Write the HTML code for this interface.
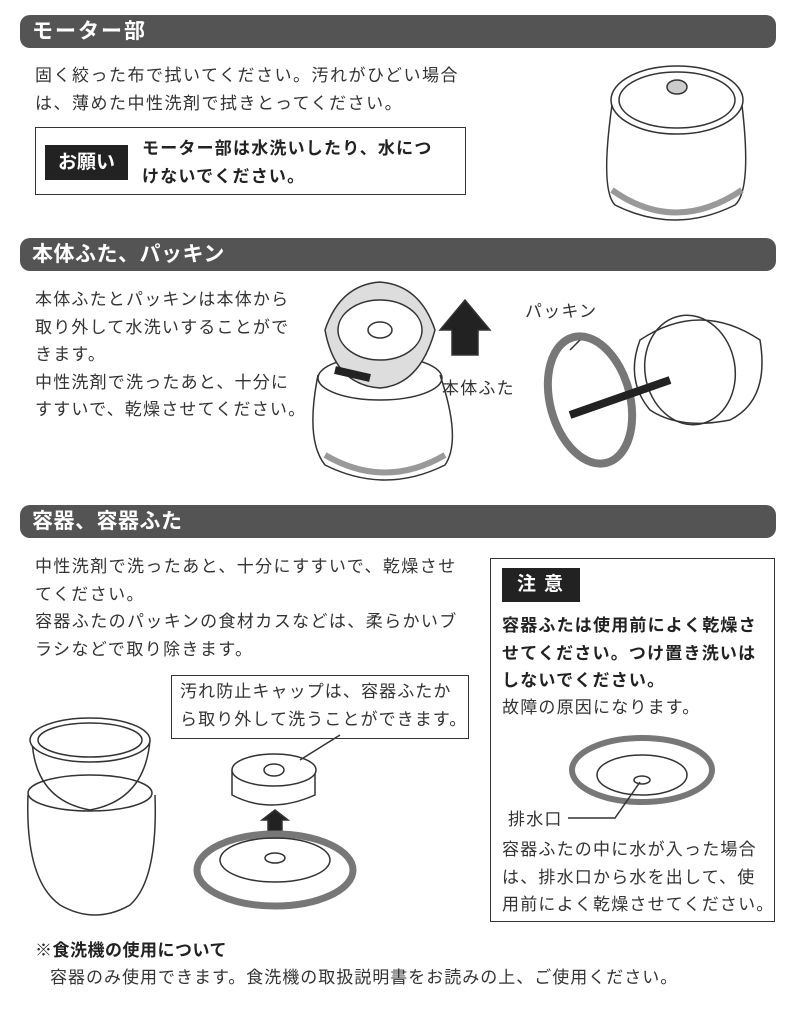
<!DOCTYPE html>
<html><head><meta charset="utf-8">
<style>
*{margin:0;padding:0;box-sizing:border-box}
body{width:792px;height:1020px;background:#fff;position:relative;font-family:"Liberation Sans","Noto Sans CJK JP",sans-serif;color:#333;overflow:hidden}
.bar{position:absolute;left:20px;width:756px;height:33px;background:#545454;border-radius:10px;color:#fff;font-size:21px;font-weight:bold;line-height:33px;padding-left:12px;letter-spacing:0.5px}
.t{position:absolute;font-size:17px;letter-spacing:1.2px;line-height:27.5px;color:#333;white-space:nowrap}
.b{font-weight:bold;color:#222}
svg{position:absolute;left:0;top:0}
</style></head><body>
<div class="bar" style="top:15px;letter-spacing:2px">モーター部</div>
<div class="t" style="left:35px;top:62px;letter-spacing:1.5px">固く絞った布で拭いてください。汚れがひどい場合<br>は、薄めた中性洗剤で拭きとってください。</div>
<div style="position:absolute;left:35px;top:127px;width:431px;height:68px;border:1.5px solid #333"></div>
<div style="position:absolute;left:45px;top:145px;width:83px;height:35px;background:#222;color:#fff;font-size:19px;font-weight:bold;line-height:35px;text-align:center">お願い</div>
<div class="t b" style="left:142px;top:135px;font-size:17px;letter-spacing:1.2px">モーター部は水洗いしたり、水につ<br>けないでください。</div>

<div class="bar" style="top:238px">本体ふた、パッキン</div>
<div class="t" style="left:35px;top:286px">本体ふたとパッキンは本体から<br>取り外して水洗いすることがで<br>きます。<br>中性洗剤で洗ったあと、十分に<br>すすいで、乾燥させてください。</div>
<div class="t" style="left:442px;top:375px">本体ふた</div>
<div class="t" style="left:525px;top:298px">パッキン</div>

<div class="bar" style="top:505px">容器、容器ふた</div>
<div class="t" style="left:35px;top:553px;letter-spacing:1.4px">中性洗剤で洗ったあと、十分にすすいで、乾燥させ<br>てください。<br>容器ふたのパッキンの食材カスなどは、柔らかいブ<br>ラシなどで取り除きます。</div>
<div style="position:absolute;left:171px;top:675px;width:298px;height:64px;border:1.5px solid #333;background:#fff"></div>
<div class="t" style="left:180px;top:678px;letter-spacing:1.1px">汚れ防止キャップは、容器ふたか<br>ら取り外して洗うことができます。</div>

<div style="position:absolute;left:490px;top:558px;width:285px;height:364px;border:1.5px solid #333"></div>
<div style="position:absolute;left:502px;top:568px;width:78px;height:34px;background:#222;color:#fff;font-size:19px;font-weight:bold;line-height:34px;text-align:center;letter-spacing:8px;padding-left:6px">注意</div>
<div class="t b" style="left:502px;top:612px">容器ふたは使用前によく乾燥さ<br>せてください。つけ置き洗いは<br>しないでください。</div>
<div class="t" style="left:502px;top:694px">故障の原因になります。</div>
<div class="t" style="left:508px;top:806px">排水口</div>
<div class="t" style="left:502px;top:836px">容器ふたの中に水が入った場合<br>は、排水口から水を出して、使<br>用前によく乾燥させてください。</div>

<div class="t b" style="left:35px;top:937px;letter-spacing:0.5px">※食洗機の使用について</div>
<div class="t" style="left:50px;top:964px;letter-spacing:1px">容器のみ使用できます。食洗機の取扱説明書をお読みの上、ご使用ください。</div>

<svg width="792" height="1020" fill="none" stroke="#333" stroke-width="1.5">
<path d="M612 105 Q600 190 615 205 Q675 235 735 205 Q752 190 742 105"/>
<ellipse cx="677" cy="100" rx="66" ry="34" fill="#fff"/>
<ellipse cx="677" cy="100" rx="58" ry="28"/>
<ellipse cx="677" cy="87" rx="10" ry="7" fill="#ccc"/>
<path d="M612 190 Q675 235 742 190" stroke="#999" stroke-width="6"/>
<path d="M318 375 Q305 440 325 465 Q385 495 445 465 Q462 440 440 375"/>
<path d="M325 455 Q385 490 445 455" stroke="#999" stroke-width="6"/>
<ellipse cx="380" cy="378" rx="62" ry="22"/>
<path d="M325 330 Q340 285 380 282 Q420 285 435 330 Q420 385 380 388 Q335 385 325 330Z" fill="#ddd"/>
<ellipse cx="380" cy="330" rx="42" ry="30" fill="#fff"/>
<ellipse cx="380" cy="330" rx="12" ry="8"/>
<polygon points="440,330 465,300 490,330 478,330 478,355 452,355 452,330" fill="#222"/>
<path d="M335 370 L370 378" stroke="#222" stroke-width="8"/>
<ellipse cx="590" cy="400" rx="40" ry="65" stroke="#777" stroke-width="8" transform="rotate(-15 590 400)"/>
<path d="M640 340 Q700 300 760 340 Q770 400 730 420 Q680 430 650 410 Q625 380 640 340Z" fill="#fff"/>
<ellipse cx="690" cy="370" rx="45" ry="55" transform="rotate(-10 690 370)"/>
<path d="M670 380 L570 415" stroke="#222" stroke-width="8"/>
<path d="M580 340 L570 350"/>
<path d="M28 795 Q25 880 60 905 Q95 925 130 905 Q158 880 155 795"/>
<ellipse cx="90" cy="793" rx="62" ry="18"/>
<path d="M32 740 Q35 800 90 810 Q145 800 150 740"/>
<ellipse cx="90" cy="740" rx="60" ry="22" fill="#fff"/>
<ellipse cx="90" cy="740" rx="52" ry="17"/>
<path d="M232 770 L232 795 Q270 815 315 795 L315 770"/>
<ellipse cx="274" cy="770" rx="42" ry="16" fill="#fff"/>
<ellipse cx="274" cy="770" rx="10" ry="6"/>
<path d="M300 760 L340 735"/>
<polygon points="262,820 275,810 288,820 282,820 282,838 268,838 268,820" fill="#222"/>
<ellipse cx="275" cy="870" rx="78" ry="36" stroke="#777" stroke-width="7"/>
<ellipse cx="275" cy="860" rx="55" ry="22"/>
<ellipse cx="275" cy="858" rx="10" ry="5"/>
<ellipse cx="642" cy="770" rx="70" ry="32" stroke="#777" stroke-width="6"/>
<ellipse cx="642" cy="775" rx="45" ry="20"/>
<ellipse cx="642" cy="780" rx="8" ry="4"/>
<path d="M568 818 L615 818 L640 782"/>
</svg>
</body></html>
